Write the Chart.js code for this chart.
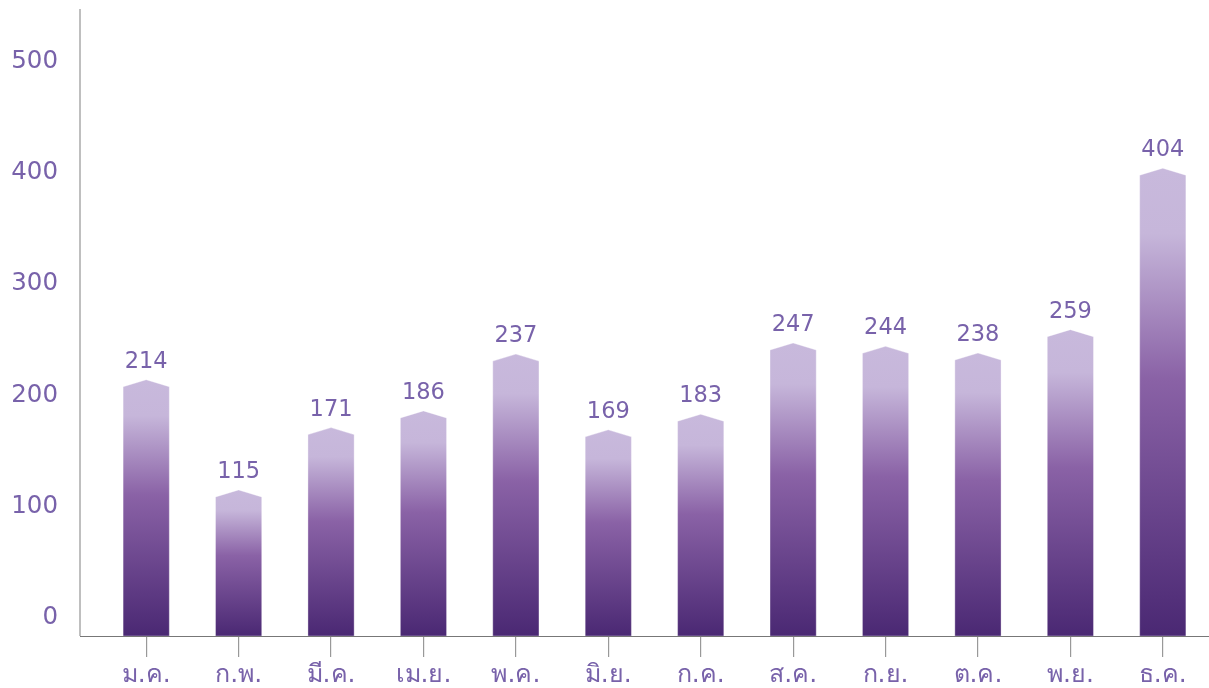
<!DOCTYPE html>
<html>
<head>
<meta charset="utf-8">
<script src="https://cdn.jsdelivr.net/npm/chart.js@4"></script>
<style>
  html, body { margin: 0; padding: 0; background: #fff; }
  #wrap { width: 1209px; height: 688px; }
</style>
</head>
<body>
<div id="wrap"><canvas id="sales-chart" width="1209" height="688"></canvas></div>
<script>
const months = ['ม.ค.', 'ก.พ.', 'มี.ค.', 'เม.ย.', 'พ.ค.', 'มิ.ย.', 'ก.ค.', 'ส.ค.', 'ก.ย.', 'ต.ค.', 'พ.ย.', 'ธ.ค.'];
const values = [214, 115, 171, 186, 237, 169, 183, 247, 244, 238, 259, 404];
const yTicks = [0, 100, 200, 300, 400, 500];

const TEXT = '#7862aa';
const FONT = "'DejaVu Sans', sans-serif";

// pointed-top bars with a vertical gradient, drawn from the bar elements
const arrowBars = {
  id: 'arrowBars',
  beforeDatasetDraw(chart, args) {
    const { ctx } = chart;
    const meta = args.meta;
    ctx.save();
    meta.data.forEach((bar, i) => {
      const half = bar.width / 2;
      const left = bar.x - half;
      const right = bar.x + half;
      const shoulder = bar.y + 7;
      const bottom = chart.chartArea.bottom;
      const grad = ctx.createLinearGradient(0, bottom, 0, bar.y);
      grad.addColorStop(0, '#4a2873');
      grad.addColorStop(0.55, '#8a62a6');
      grad.addColorStop(0.86, '#c6b6da');
      grad.addColorStop(1, '#c8b9dc');
      ctx.beginPath();
      ctx.moveTo(left, bottom);
      ctx.lineTo(left, shoulder);
      ctx.lineTo(bar.x, bar.y);
      ctx.lineTo(right, shoulder);
      ctx.lineTo(right, bottom);
      ctx.closePath();
      ctx.fillStyle = grad;
      ctx.fill();
      ctx.strokeStyle = 'rgba(255,255,255,0.35)';
      ctx.lineWidth = 1;
      ctx.stroke();

      // value label
      ctx.fillStyle = TEXT;
      ctx.font = '22.5px ' + FONT;
      ctx.textAlign = 'center';
      ctx.textBaseline = 'alphabetic';
      ctx.fillText(String(values[i]), bar.x, bar.y - 12);
    });
    ctx.restore();
    return false;
  }
};

// axis lines, the y axis sits a little left of the first category
const axisLines = {
  id: 'axisLines',
  afterDraw(chart) {
    const { ctx, chartArea } = chart;
    const x0 = chartArea.left - 20;
    ctx.save();
    ctx.lineWidth = 1.5;
    ctx.strokeStyle = '#aaaaaa';
    ctx.beginPath();
    ctx.moveTo(x0, chartArea.top);
    ctx.lineTo(x0, chartArea.bottom);
    ctx.stroke();
    ctx.strokeStyle = '#777777';
    ctx.lineWidth = 1.2;
    ctx.beginPath();
    ctx.moveTo(x0, chartArea.bottom + 0.5);
    ctx.lineTo(chartArea.right, chartArea.bottom + 0.5);
    ctx.stroke();
    ctx.restore();
  }
};

new Chart(document.getElementById('sales-chart'), {
  type: 'bar',
  data: {
    labels: months,
    datasets: [{
      data: values,
      backgroundColor: '#8a62a6',
      barPercentage: 0.5,
      categoryPercentage: 1.0
    }]
  },
  plugins: [arrowBars, axisLines],
  options: {
    responsive: false,
    animation: false,
    layout: { padding: { top: 9, right: 0, bottom: 0, left: 0 } },
    plugins: {
      legend: { display: false },
      tooltip: { enabled: false }
    },
    scales: {
      x: {
        grid: {
          offset: false,
          drawOnChartArea: false,
          drawTicks: true,
          tickLength: 21,
          color: '#999999',
          lineWidth: 1.2
        },
        border: { display: false },
        ticks: {
          color: TEXT,
          padding: 3,
          font: { family: FONT, size: 25 }
        },
        afterFit(scale) {
          scale.height = 52;
          scale.paddingLeft = 0;
          scale.paddingRight = 0;
        }
      },
      y: {
        min: -16.2,
        max: 547,
        grid: { display: false, drawTicks: false },
        border: { display: false },
        ticks: {
          color: TEXT,
          padding: 42,
          font: { family: FONT, size: 24.5 }
        },
        afterBuildTicks(scale) {
          scale.ticks = yTicks.map((v) => ({ value: v }));
        },
        afterFit(scale) {
          scale.width = 100;
          scale.paddingTop = 0;
          scale.paddingBottom = 0;
        }
      }
    }
  }
});
</script>
</body>
</html>
